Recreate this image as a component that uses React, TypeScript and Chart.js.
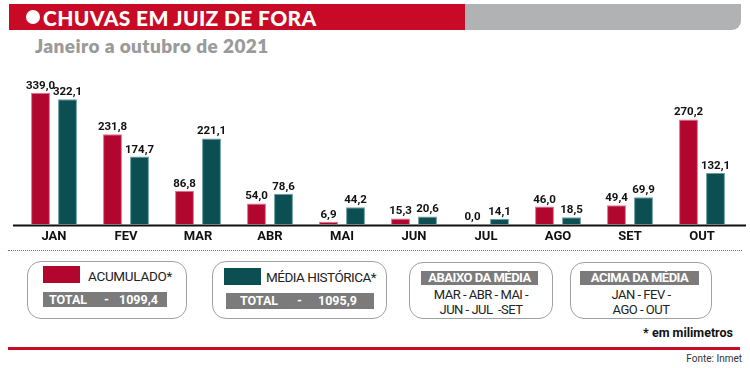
import React, { useEffect, useRef } from "react";
import { Chart, registerables } from "chart.js";

Chart.register(...registerables);

const months = ["JAN", "FEV", "MAR", "ABR", "MAI", "JUN", "JUL", "AGO", "SET", "OUT"];
const acumulado = [339.0, 231.8, 86.8, 54.0, 6.9, 15.3, 0.0, 46.0, 49.4, 270.2];
const mediaHistorica = [322.1, 174.7, 221.1, 78.6, 44.2, 20.6, 14.1, 18.5, 69.9, 132.1];

const RED = "#b3062f";
const TEAL = "#0b4f53";
const FONT = "Roboto, 'Open Sans', Arial, sans-serif";

const fmt = (v: number) => v.toFixed(1).replace(".", ",");

const valueLabels = {
  id: "valueLabels",
  afterDatasetsDraw(chart: any) {
    const ctx = chart.ctx;
    ctx.save();
    ctx.font = `bold 11.5px ${FONT}`;
    ctx.fillStyle = "#111";
    ctx.textAlign = "center";
    ctx.textBaseline = "alphabetic";
    chart.data.datasets.forEach((ds: any, di: number) => {
      const meta = chart.getDatasetMeta(di);
      meta.data.forEach((bar: any, i: number) => {
        ctx.fillText(fmt(ds.data[i]), bar.x, bar.y - 4);
      });
    });
    ctx.restore();
  },
};

const axisLine = {
  id: "axisLine",
  afterDraw(chart: any) {
    const ctx = chart.ctx;
    const y = chart.chartArea.bottom + 1;
    ctx.save();
    ctx.strokeStyle = "#111";
    ctx.lineWidth = 2;
    ctx.beginPath();
    ctx.moveTo(13, y);
    ctx.lineTo(746, y);
    ctx.stroke();
    ctx.restore();
  },
};

function BarChart() {
  const ref = useRef<HTMLCanvasElement | null>(null);
  useEffect(() => {
    if (!ref.current) return;
    const chart = new Chart(ref.current, {
      type: "bar",
      data: {
        labels: months,
        datasets: [
          {
            label: "ACUMULADO",
            data: acumulado,
            backgroundColor: RED,
            borderColor: "rgba(214,90,118,0.85)",
            borderWidth: 1,
            barPercentage: 0.7,
            categoryPercentage: 0.75,
          },
          {
            label: "MÉDIA HISTÓRICA",
            data: mediaHistorica,
            backgroundColor: TEAL,
            borderColor: "rgba(80,140,144,0.85)",
            borderWidth: 1,
            barPercentage: 0.7,
            categoryPercentage: 0.75,
          },
        ],
      },
      options: {
        responsive: false,
        animation: false,
        layout: { padding: { left: 18, right: 12, top: 0, bottom: 0 } },
        plugins: { legend: { display: false }, tooltip: { enabled: false } },
        scales: {
          y: { display: false, min: 0, max: 423 },
          x: {
            grid: { display: false, drawTicks: false },
            border: { display: false },
            ticks: {
              color: "#111",
              font: { family: FONT, weight: "bold", size: 13 },
              padding: 5,
            },
          },
        },
      },
      plugins: [valueLabels, axisLine],
    });
    return () => chart.destroy();
  }, []);
  return (
    <canvas
      ref={ref}
      width={750}
      height={190}
      style={{ position: "absolute", left: 0, top: 60, width: 750, height: 190 }}
    />
  );
}

const abs = (s: React.CSSProperties): React.CSSProperties => ({ position: "absolute", ...s });

export default function App() {
  return (
    <div style={abs({ left: 0, top: 0, width: 750, height: 368, background: "#fff", fontFamily: FONT, overflow: "hidden" })}>
      {/* title bar */}
      <div style={abs({ left: 9, top: 4, width: 456, height: 26, background: "#c90a26" })} />
      <div style={abs({ left: 465, top: 4, width: 276, height: 26, background: "#b1b2b3", borderBottomRightRadius: 9 })} />
      <div style={abs({ left: 26, top: 10, width: 14, height: 14, borderRadius: "50%", background: "#fff" })} />
      <div style={abs({ left: 43, top: 4, height: 26, lineHeight: "27px", color: "#fff", fontWeight: 900, fontSize: 21, letterSpacing: "0.35px", fontFamily: "Lato, Roboto, sans-serif", whiteSpace: "nowrap" })}>
        CHUVAS EM JUIZ DE FORA
      </div>
      <div style={abs({ left: 35, top: 35, lineHeight: "22px", color: "#9a9a9a", fontWeight: 800, fontSize: 19, letterSpacing: "0.4px", fontFamily: "Lato, Roboto, sans-serif", whiteSpace: "nowrap" })}>
        Janeiro a outubro de 2021
      </div>

      <BarChart />

      {/* dotted separator */}
      <div style={abs({ left: 8, top: 250, width: 734, height: 0, borderTop: "1px dotted #d8405c" })} />

      {/* legend box 1 */}
      <div style={abs({ left: 27, top: 261, width: 158, height: 56, border: "1px solid #a0a0a0", borderRadius: 14 })} />
      <div style={abs({ left: 43, top: 266, width: 37, height: 17, background: RED, filter: "blur(0.6px)" })} />
      <div style={abs({ left: 88, top: 267, lineHeight: "18px", fontSize: 13.5, color: "#222", letterSpacing: "-0.3px", whiteSpace: "nowrap" })}>ACUMULADO*</div>
      <div style={abs({ left: 43, top: 292, width: 124, height: 15, background: "#7b7b7b" })} />
      <div style={abs({ left: 49, top: 292, lineHeight: "15px", fontSize: 12.5, fontWeight: "bold", color: "#fff" })}>TOTAL</div>
      <div style={abs({ left: 104, top: 292, lineHeight: "15px", fontSize: 12.5, fontWeight: "bold", color: "#fff" })}>-</div>
      <div style={abs({ left: 119, top: 292, lineHeight: "15px", fontSize: 12.5, fontWeight: "bold", color: "#fff" })}>1099,4</div>

      {/* legend box 2 */}
      <div style={abs({ left: 212, top: 261, width: 173, height: 56, border: "1px solid #a0a0a0", borderRadius: 14 })} />
      <div style={abs({ left: 224, top: 268, width: 37, height: 17, background: TEAL, filter: "blur(0.6px)" })} />
      <div style={abs({ left: 266, top: 268, lineHeight: "18px", fontSize: 13.5, color: "#222", letterSpacing: "-0.5px", whiteSpace: "nowrap" })}>MÉDIA HISTÓRICA*</div>
      <div style={abs({ left: 226, top: 293, width: 148, height: 16, background: "#7b7b7b" })} />
      <div style={abs({ left: 240, top: 293, lineHeight: "16px", fontSize: 12.5, fontWeight: "bold", color: "#fff" })}>TOTAL</div>
      <div style={abs({ left: 297, top: 293, lineHeight: "16px", fontSize: 12.5, fontWeight: "bold", color: "#fff" })}>-</div>
      <div style={abs({ left: 318, top: 293, lineHeight: "16px", fontSize: 12.5, fontWeight: "bold", color: "#fff" })}>1095,9</div>

      {/* box 3 */}
      <div style={abs({ left: 409, top: 262, width: 142, height: 55, border: "1px solid #a0a0a0", borderRadius: 14 })} />
      <div style={abs({ left: 421, top: 271, width: 117, height: 14, background: "#7b7b7b", color: "#fff", fontWeight: "bold", fontSize: 13, lineHeight: "14px", textAlign: "center", letterSpacing: "-0.5px", whiteSpace: "nowrap" })}>ABAIXO DA MÉDIA</div>
      <div style={abs({ left: 409, top: 287, width: 144, textAlign: "center", fontSize: 13, lineHeight: "15px", color: "#222", letterSpacing: "-0.5px", whiteSpace: "pre" })}>
        {"MAR - ABR - MAI -\nJUN - JUL  -SET"}
      </div>

      {/* box 4 */}
      <div style={abs({ left: 570, top: 262, width: 140, height: 55, border: "1px solid #a0a0a0", borderRadius: 14 })} />
      <div style={abs({ left: 580, top: 271, width: 119, height: 14, background: "#7b7b7b", color: "#fff", fontWeight: "bold", fontSize: 13, lineHeight: "14px", textAlign: "center", letterSpacing: "-0.5px", whiteSpace: "nowrap" })}>ACIMA DA MÉDIA</div>
      <div style={abs({ left: 570, top: 287, width: 142, textAlign: "center", fontSize: 13, lineHeight: "15px", color: "#222", letterSpacing: "-0.5px", whiteSpace: "pre" })}>
        {"JAN - FEV -\nAGO - OUT"}
      </div>

      {/* footnotes */}
      <div style={abs({ right: 17, top: 325, lineHeight: "16px", fontSize: 12.5, fontWeight: "bold", color: "#111", whiteSpace: "nowrap" })}>* em milimetros</div>
      <div style={abs({ left: 8, top: 347, width: 732, height: 3, background: "#c90a26" })} />
      <div style={abs({ right: 8, top: 352, lineHeight: "13px", fontSize: 10, color: "#333", whiteSpace: "nowrap" })}>Fonte: Inmet</div>
    </div>
  );
}
